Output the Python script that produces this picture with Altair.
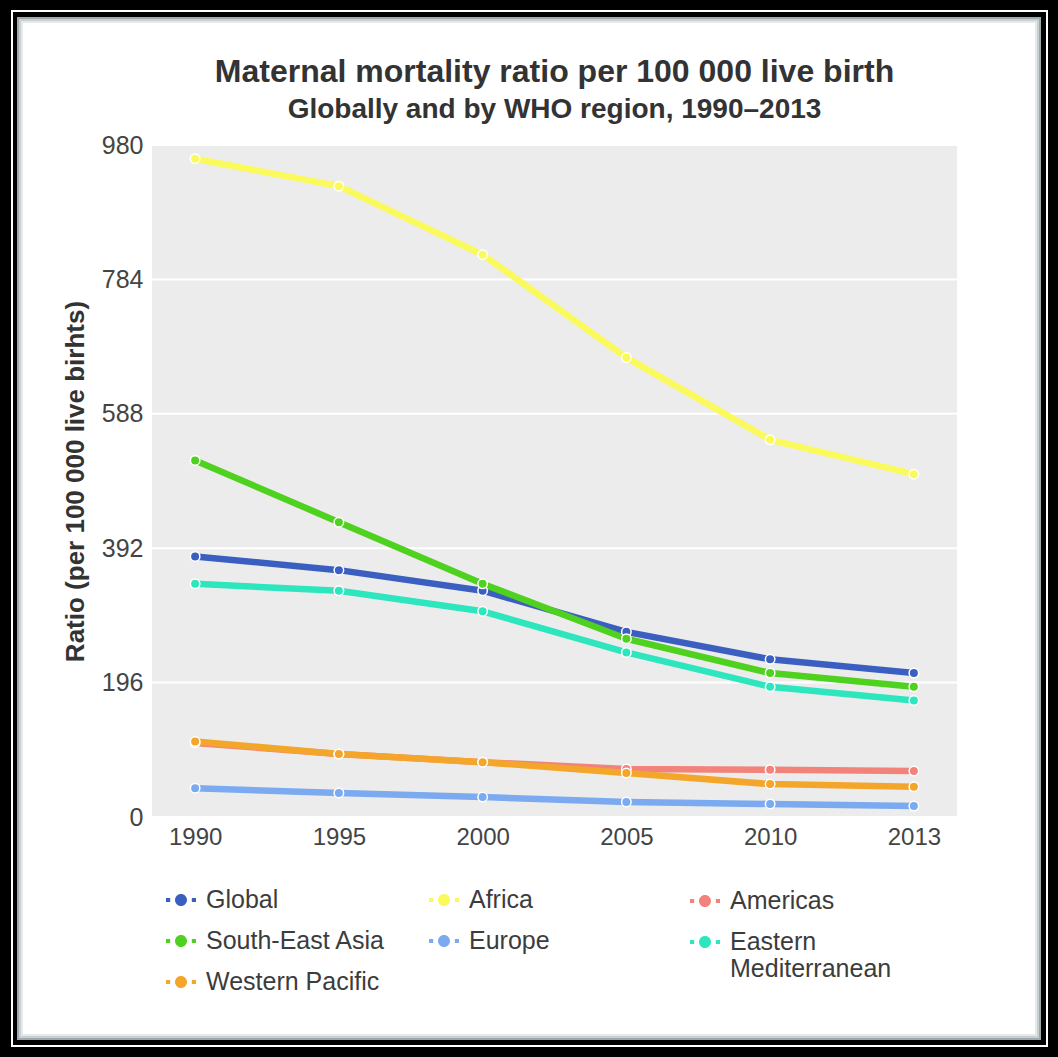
import altair as alt
import pandas as pd

# Maternal mortality ratio per 100 000 live births, WHO regions, 1990-2013
years = ["1990", "1995", "2000", "2005", "2010", "2013"]
regions = ["Global", "Africa", "Americas", "South-East Asia", "Europe",
           "Eastern Mediterranean", "Western Pacific"]
region_colors = ["#3b5fc0", "#fafa5c", "#f2837b", "#4fd11f", "#7baaf0",
                 "#2de6bd", "#f4a62a"]

global_vals = [380, 360, 330, 270, 230, 210]
africa_vals = [960, 920, 820, 670, 550, 500]
americas_vals = [108, 92, 80, 70, 69, 67]
sea_vals = [520, 430, 340, 260, 210, 190]
europe_vals = [42, 35, 29, 22, 19, 16]
emr_vals = [340, 330, 300, 240, 190, 170]
wpr_vals = [110, 92, 80, 64, 48, 44]

y_ticks = [0, 196, 392, 588, 784, 980]

series = [global_vals, africa_vals, americas_vals, sea_vals, europe_vals,
          emr_vals, wpr_vals]
rows = []
for region, vals in zip(regions, series):
    for year, v in zip(years, vals):
        rows.append({"year": year, "region": region, "value": v})
df = pd.DataFrame(rows)
ticks_df = pd.DataFrame({"tick": y_ticks})
one = pd.DataFrame({"k": [0]})

FONT = "Liberation Sans"
W, H = 805, 672

# legend columns: first two columns in one legend, third column in another
legend_a_values = ["Global", "Africa", "South-East Asia", "Europe", "Western Pacific"]
legend_b_values = ["Americas", "Eastern Mediterranean"]
order_a = legend_a_values + legend_b_values
order_b = legend_b_values + legend_a_values
color_of = dict(zip(regions, region_colors))

# circle marker with short line stubs on both sides
marker_path = ("M -0.4,0 A 0.4,0.4 0 1,0 0.4,0 A 0.4,0.4 0 1,0 -0.4,0 Z "
               "M -1,-0.13 L -0.72,-0.13 L -0.72,0.13 L -1,0.13 Z "
               "M 0.72,-0.13 L 1,-0.13 L 1,0.13 L 0.72,0.13 Z")

x_scale = alt.Scale(type="point", padding=0.3)
y_scale = alt.Scale(domain=[0, 980], nice=False, zero=True)

x_axis = alt.Axis(title=None, labelAngle=0, labelFontSize=24, labelFont=FONT,
                  labelColor="#444444", labelPadding=8, ticks=False,
                  domain=False, grid=False, zindex=1)
y_axis = alt.Axis(values=y_ticks, title="Ratio (per 100 000 live birhts)",
                  titleFontSize=26, titleFont=FONT, titleFontWeight="bold",
                  titleColor="#333333", titlePadding=13, labelFontSize=25,
                  labelFont=FONT, labelColor="#444444", labelPadding=9,
                  ticks=False, domain=False, grid=False, zindex=1)

# page frame: thin white rule and the white card with a soft edge
frame_line = alt.Chart(one).mark_rect(fill=None, stroke="white", strokeWidth=2).encode(
    x=alt.value(-140), x2=alt.value(895), y=alt.value(-134), y2=alt.value(901))
card = alt.Chart(one).mark_rect(fill="white", stroke="#9ea8ad", strokeWidth=2).encode(
    x=alt.value(-134), x2=alt.value(888), y=alt.value(-127), y2=alt.value(894))
card_edge1 = alt.Chart(one).mark_rect(fill=None, stroke="#c9d0d3", strokeWidth=2).encode(
    x=alt.value(-132), x2=alt.value(886), y=alt.value(-125), y2=alt.value(892))
card_edge2 = alt.Chart(one).mark_rect(fill=None, stroke="#e6e9ea", strokeWidth=2).encode(
    x=alt.value(-130), x2=alt.value(884), y=alt.value(-123), y2=alt.value(890))

plot_bg = alt.Chart(one).mark_rect(fill="#ececec").encode(
    x=alt.value(0), x2=alt.value(W), y=alt.value(0), y2=alt.value(H))

grid = alt.Chart(ticks_df).mark_rule(color="white", strokeWidth=2).encode(
    y=alt.Y("tick:Q", scale=y_scale))

lines = alt.Chart(df).mark_line(strokeWidth=6.5, strokeJoin="round").encode(
    x=alt.X("year:O", sort=years, scale=x_scale, axis=x_axis),
    y=alt.Y("value:Q", scale=y_scale, axis=y_axis),
    stroke=alt.Stroke("region:N", sort=regions,
                      scale=alt.Scale(domain=regions, range=region_colors),
                      legend=None),
)

fill_scale = alt.Scale(domain=order_b, range=[color_of[r] for r in order_b])
color_scale = alt.Scale(domain=order_a, range=[color_of[r] for r in order_a])

legend_common = dict(
    title=None, orient="none", symbolType=marker_path, symbolSize=900,
    symbolStrokeColor="transparent", symbolStrokeWidth=0, symbolOpacity=1,
    labelFontSize=25, labelFont=FONT, labelColor="#3c3c3c", labelOffset=10,
    labelLimit=400,
)

# markers on the lines; also carry the third legend column
points = alt.Chart(df).mark_circle(size=90, opacity=1, stroke="white",
                                   strokeWidth=1.5).encode(
    x=alt.X("year:O", sort=years, scale=x_scale),
    y=alt.Y("value:Q", scale=y_scale),
    fill=alt.Fill("region:N", scale=fill_scale,
                  legend=alt.Legend(values=legend_b_values, columns=1,
                                    direction="vertical", rowPadding=13,
                                    legendX=538, legendY=741,
                                    labelExpr="datum.label == 'Eastern Mediterranean' ? ['Eastern', 'Mediterranean'] : datum.label",
                                    **legend_common)),
)

# legend-only layer (no rows survive the filter) for the first two columns
legend_a_layer = alt.Chart(df).transform_filter("datum.value < 0").mark_circle(opacity=1).encode(
    x=alt.X("year:O", sort=years, scale=x_scale),
    y=alt.Y("value:Q", scale=y_scale),
    color=alt.Color("region:N", scale=color_scale,
                    legend=alt.Legend(values=legend_a_values, columns=2,
                                      direction="horizontal", gridAlign="each",
                                      columnPadding=43, rowPadding=13,
                                      legendX=14, legendY=740,
                                      **legend_common)),
)

chart = alt.layer(
    frame_line, card, card_edge1, card_edge2, plot_bg, grid, lines, points,
    legend_a_layer,
).properties(
    width=W, height=H,
    autosize=alt.AutoSizeParams(type="none"),
    padding={"left": 152, "top": 145, "right": 101, "bottom": 240},
    title=alt.TitleParams(
        text="Maternal mortality ratio per 100 000 live birth",
        subtitle="Globally and by WHO region, 1990–2013",
        font=FONT, subtitleFont=FONT, fontSize=32, subtitleFontSize=28,
        fontWeight="bold", subtitleFontWeight="bold", color="#333333",
        subtitleColor="#333333", anchor="middle", frame="group",
        offset=-115, subtitlePadding=7,
    ),
).configure(background="#000000").configure_view(stroke=None)

chart.save("out.html", embed_options={"renderer": "svg", "actions": False})
